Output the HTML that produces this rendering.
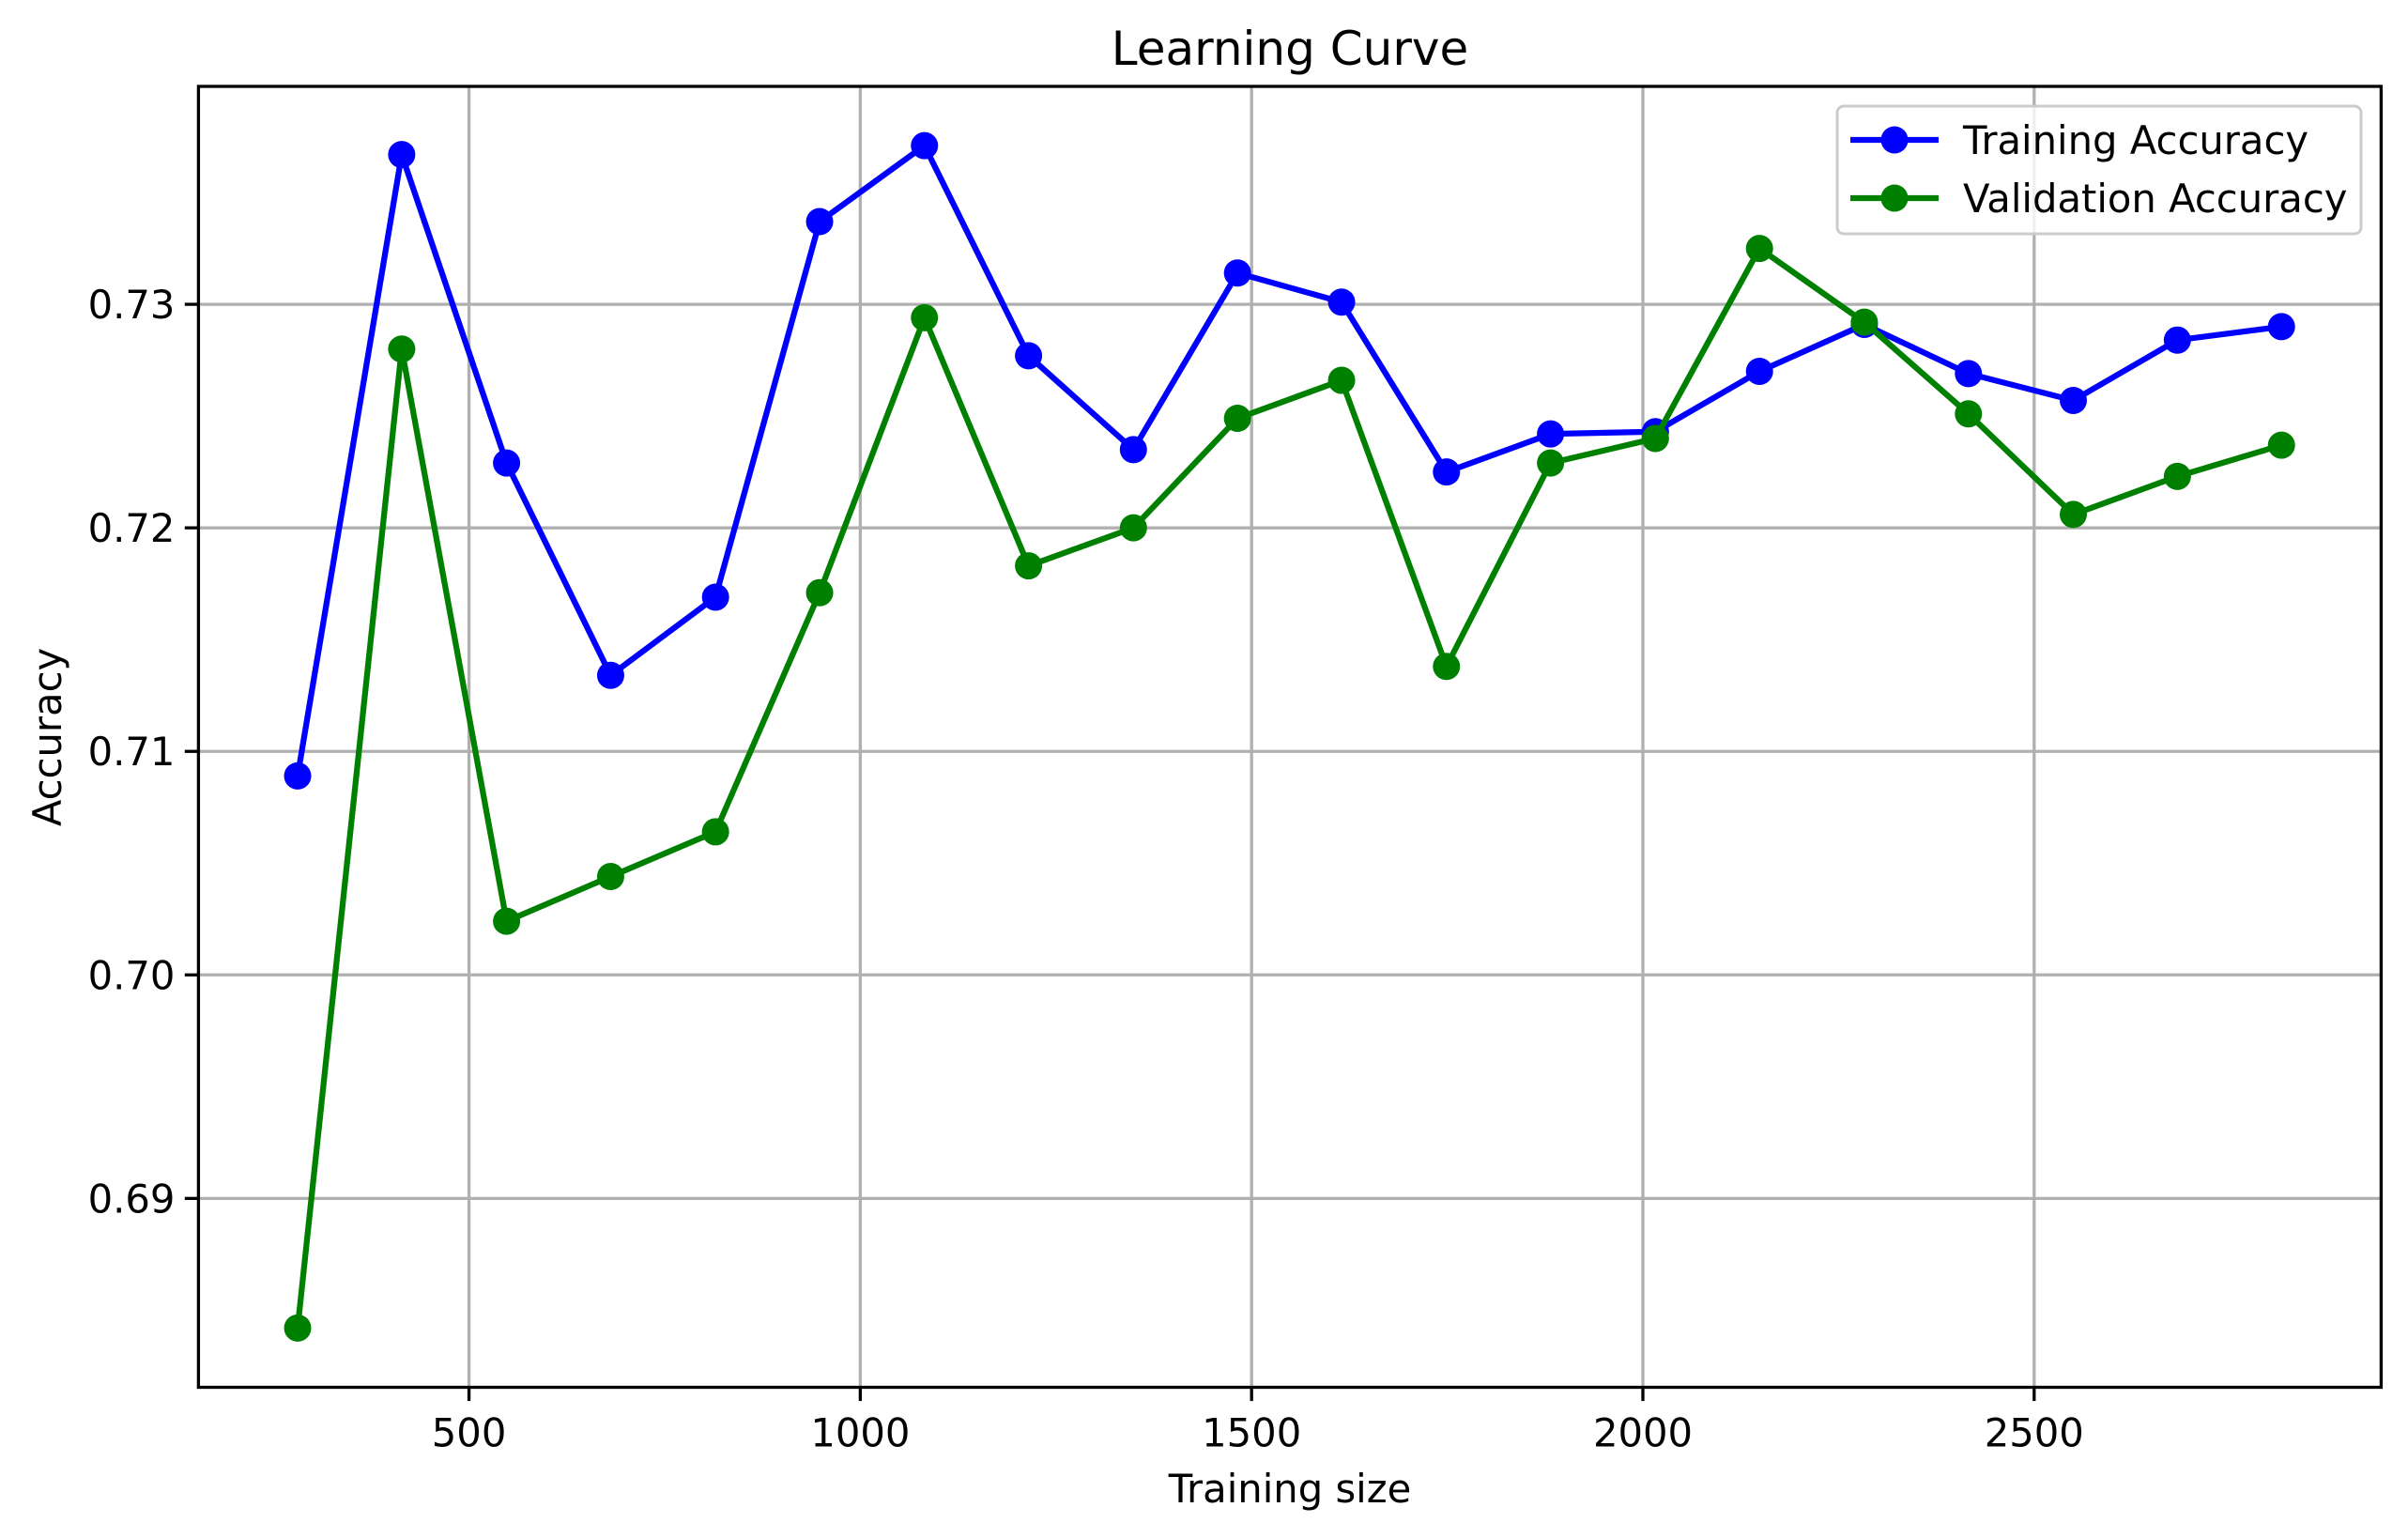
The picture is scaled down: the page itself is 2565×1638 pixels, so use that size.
<!DOCTYPE html>
<html><head><meta charset="utf-8"><style>
html,body{margin:0;padding:0;background:#fff;}
svg{display:block;font-family:"DejaVu Sans","Liberation Sans",sans-serif;}
</style></head><body>
<svg id="chart" width="2565" height="1638" viewBox="0 0 2565 1638" xmlns="http://www.w3.org/2000/svg">
<rect width="2565" height="1638" fill="#fff"/>
<g id="grid"></g>
<g id="series"></g>
<rect x="211.4" y="92" width="2325" height="1385.5" fill="none" stroke="#000" stroke-width="3.3"/>
<g id="ticks"></g>
<text x="1374" y="69" font-size="50" text-anchor="middle">Learning Curve</text>
<text x="1374" y="1600" font-size="41.7" text-anchor="middle">Training size</text>
<text x="0" y="0" font-size="41.7" text-anchor="middle" transform="translate(65,785) rotate(-90)">Accuracy</text>
<g>
<rect x="1957" y="113" width="558" height="136" rx="7" fill="#fff" fill-opacity="0.8" stroke="#ccc" stroke-width="3"/>
<line x1="1971" y1="149" x2="2065" y2="149" stroke="#0000ff" stroke-width="6.25"/>
<circle cx="2018" cy="149" r="14.5" fill="#0000ff"/>
<text x="2091" y="164" font-size="41.7">Training Accuracy</text>
<line x1="1971" y1="211" x2="2065" y2="211" stroke="#008000" stroke-width="6.25"/>
<circle cx="2018" cy="211" r="14.5" fill="#008000"/>
<text x="2091" y="226" font-size="41.7">Validation Accuracy</text>
</g>
</svg>
<script>
const trainSizes = [281,414,548,681,815,948,1082,1215,1349,1482,1615,1749,1882,2016,2149,2283,2416,2550,2683,2816];
const trainAcc = [0.7089,0.7367,0.7229,0.7134,0.7169,0.7337,0.7371,0.7277,0.7235,0.7314,0.7301,0.7225,0.7242,0.7243,0.7270,0.7291,0.7269,0.7257,0.7284,0.7290];
const valAcc = [0.6842,0.7280,0.7024,0.7044,0.7064,0.7171,0.7294,0.7183,0.7200,0.7249,0.7266,0.7138,0.7229,0.7240,0.7325,0.7292,0.7251,0.7206,0.7223,0.7237];
const xTicks = [500,1000,1500,2000,2500];
const yTicks = [0.69,0.70,0.71,0.72,0.73];
const yTickLabels = ["0.69","0.70","0.71","0.72","0.73"];

const X0=211.4,X1=2536.5,Y0=1477.5,Y1=92;
const xMin=154.3,xMax=2943.5,yMin=0.68155,yMax=0.73975;
function sx(v){return X0+(v-xMin)/(xMax-xMin)*(X1-X0);}
function sy(v){return Y0-(v-yMin)/(yMax-yMin)*(Y0-Y1);}
const NS="http://www.w3.org/2000/svg";
function mk(tag,attrs,parent){const e=document.createElementNS(NS,tag);for(const k in attrs)e.setAttribute(k,attrs[k]);parent.appendChild(e);return e;}
const grid=document.getElementById('grid'),ticks=document.getElementById('ticks'),series=document.getElementById('series');
xTicks.forEach(t=>{
  const x=sx(t);
  const g=mk('line',{x1:x,x2:x,y1:Y1,y2:Y0,stroke:'#b0b0b0','stroke-width':3.3},grid);
  
  
  mk('line',{x1:x,x2:x,y1:Y0,y2:Y0+14.6,stroke:'#000','stroke-width':3.3},ticks);
  const tx=mk('text',{x:x,y:Y0+63,'font-size':41.7,'text-anchor':'middle'},ticks);
  
  
  tx.textContent=t;
});
yTicks.forEach((t,i)=>{
  const y=sy(t);
  const g=mk('line',{x1:X0,x2:X1,y1:y,y2:y,stroke:'#b0b0b0','stroke-width':3.3},grid);
  
  
  mk('line',{x1:X0-14.6,x2:X0,y1:y,y2:y,stroke:'#000','stroke-width':3.3},ticks);
  const tx=mk('text',{x:X0-25,y:y+15,'font-size':41.7,'text-anchor':'end'},ticks);
  
  
  tx.textContent=yTickLabels[i];
});
function drawSeries(vals,color,name){
  const pts=trainSizes.map((s,i)=>sx(s)+','+sy(vals[i])).join(' ');
  const pl=mk('polyline',{points:pts,fill:'none',stroke:color,'stroke-width':6.25,'stroke-linejoin':'round'},series);
  
  
  trainSizes.forEach((s,i)=>{
    const c=mk('circle',{cx:sx(s),cy:sy(vals[i]),r:14.5,fill:color},series);
    
    
  });
}
drawSeries(trainAcc,'#0000ff','training-accuracy');
drawSeries(valAcc,'#008000','validation-accuracy');
</script>
</body></html>
